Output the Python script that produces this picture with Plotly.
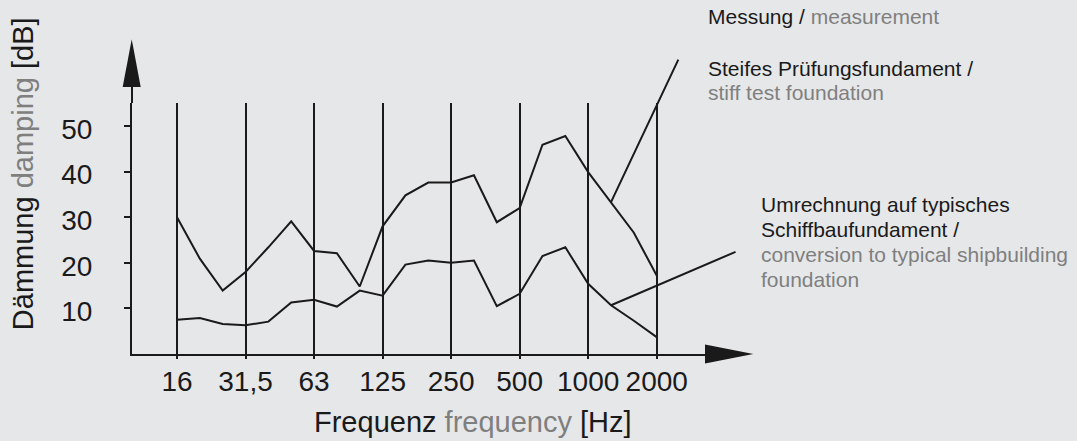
import plotly.graph_objects as go

# ---------------- data ----------------
bands = ["16", "20", "25", "31,5", "40", "50", "63", "80", "100", "125", "160",
         "200", "250", "315", "400", "500", "630", "800", "1000", "1250", "1600", "2000"]
octave_labels = ["16", "31,5", "63", "125", "250", "500", "1000", "2000"]
stiff_foundation = [30.0, 20.9, 13.9, 18.0, 23.4, 29.1, 22.6, 22.1, 14.8, 28.0, 34.8,
                    37.6, 37.6, 39.2, 28.9, 32.0, 45.9, 47.8, 39.9, 33.3, 26.6, 17.2]
ship_foundation = [7.5, 7.9, 6.6, 6.3, 7.1, 11.3, 11.9, 10.4, 13.9, 12.8, 19.6,
                   20.5, 20.0, 20.5, 10.5, 13.2, 21.5, 23.4, 15.4, 10.7, 7.3, 3.7]
y_ticks = [10, 20, 30, 40, 50]

x_idx = list(range(len(bands)))
oct_idx = [bands.index(b) for b in octave_labels]
leader_band = bands.index("1250")

# ---------------- layout geometry ----------------
W, H = 1077, 441
L, R, T, B = 132, 706, 103, 354          # plot area in pixels
X0_PX, PX_PER_BAND = 177.0, 22.843        # position of first band, spacing
PX_PER_DB = 4.56

x_range = [(L - X0_PX) / PX_PER_BAND, (R - X0_PX) / PX_PER_BAND]
y_range = [0, (B - T) / PX_PER_DB]


def paper(xp, yp):
    return (xp - L) / (R - L), (B - yp) / (B - T)


BG = "#e6e7e9"
INK = "#1a1a1a"
GREY = "#7f7f7f"
FONT = "Liberation Sans, Arial, Helvetica, sans-serif"

fig = go.Figure()
for vals in (stiff_foundation, ship_foundation):
    fig.add_trace(go.Scatter(x=x_idx, y=vals, mode="lines",
                             line=dict(color=INK, width=2), showlegend=False,
                             hoverinfo="skip"))

shapes = []
# y-axis extension above plot + arrow
x_a, y_a = paper(132, T)
x_b, y_b = paper(132, 86)
shapes.append(dict(type="line", xref="paper", yref="paper", x0=x_a, y0=y_a, x1=x_b, y1=y_b,
                   line=dict(color=INK, width=2)))
p1 = paper(131.7, 39.3); p2 = paper(122.7, 87); p3 = paper(140.7, 87)
shapes.append(dict(type="path", xref="paper", yref="paper",
                   path=f"M {p1[0]},{p1[1]} L {p2[0]},{p2[1]} L {p3[0]},{p3[1]} Z",
                   fillcolor=INK, line=dict(color=INK, width=0)))
# x-axis arrow
q1 = paper(705, 344.5); q2 = paper(705, 363.5); q3 = paper(753.3, 354)
shapes.append(dict(type="path", xref="paper", yref="paper",
                   path=f"M {q1[0]},{q1[1]} L {q2[0]},{q2[1]} L {q3[0]},{q3[1]} Z",
                   fillcolor=INK, line=dict(color=INK, width=0)))

annotations = []
# leader lines
annotations.append(dict(x=leader_band, y=stiff_foundation[leader_band], xref="x", yref="y",
                        text="", showarrow=True, arrowhead=0, arrowwidth=2, arrowcolor=INK,
                        ax=68, ay=-144, standoff=0, startstandoff=0))
annotations.append(dict(x=leader_band, y=ship_foundation[leader_band], xref="x", yref="y",
                        text="", showarrow=True, arrowhead=0, arrowwidth=2, arrowcolor=INK,
                        ax=126, ay=-54, standoff=0, startstandoff=0))


def grey(s):
    return f'<span style="color:{GREY}">{s}</span>'


FS = 21
label_lines = [
    ("Messung / " + grey("measurement"), 706, 24),
    ("Steifes Prüfungsfundament /", 706, 76),
    (grey("stiff test foundation"), 706, 100),
    ("Umrechnung auf typisches", 759, 211.7),
    ("Schiffbaufundament /", 759, 236.7),
    (grey("conversion to typical shipbuilding"), 759, 261.7),
    (grey("foundation"), 759, 286.7),
]
for txt, xp, base in label_lines:
    px_, py_ = paper(xp, base - 0.35 * FS)
    annotations.append(dict(x=px_, y=py_, xref="paper", yref="paper", text=txt,
                            showarrow=False, xanchor="left", yanchor="middle",
                            font=dict(family=FONT, size=FS, color=INK)))

TS = 29
tx, ty = paper(473.3, 432.3 - 0.35 * TS)
annotations.append(dict(x=tx, y=ty, xref="paper", yref="paper",
                        text="Frequenz " + grey("frequency") + " [Hz]",
                        showarrow=False, xanchor="center", yanchor="middle",
                        font=dict(family=FONT, size=TS, color=INK)))
yx, yy = paper(33.3 - 0.35 * TS, 174)
annotations.append(dict(x=yx, y=yy, xref="paper", yref="paper",
                        text="Dämmung " + grey("damping") + " [dB]", textangle=-90,
                        showarrow=False, xanchor="center", yanchor="middle",
                        font=dict(family=FONT, size=TS, color=INK)))

fig.update_layout(
    width=W, height=H,
    margin=dict(l=L, r=W - R, t=T, b=H - B, pad=0, autoexpand=False),
    paper_bgcolor=BG, plot_bgcolor=BG,
    shapes=shapes, annotations=annotations,
    font=dict(family=FONT, color=INK),
    xaxis=dict(range=x_range, tickmode="array", tickvals=oct_idx, ticktext=octave_labels,
               showgrid=True, gridcolor=INK, gridwidth=2, zeroline=False,
               showline=True, linecolor=INK, linewidth=2,
               ticks="outside", ticklen=3, tickwidth=2, tickcolor=INK,
               tickfont=dict(family=FONT, size=28, color=INK),
               ticklabelstandoff=-2, fixedrange=True),
    yaxis=dict(range=y_range, tickmode="array", tickvals=y_ticks,
               showgrid=False, zeroline=False,
               showline=True, linecolor=INK, linewidth=2,
               ticks="outside", ticklen=6, tickwidth=1.8, tickcolor=INK,
               tickfont=dict(family=FONT, size=28, color=INK),
               ticklabelstandoff=26, ticklabelshift=3, fixedrange=True),
)

fig.write_html(
    "out.html",
    config={"displayModeBar": False, "staticPlot": True},
    post_script="document.body.style.margin='0';document.body.style.overflow='hidden';"
                "document.documentElement.style.background='" + BG + "';",
)
